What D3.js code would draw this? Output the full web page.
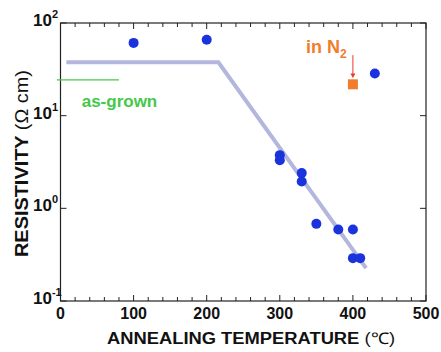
<!DOCTYPE html>
<html>
<head>
<meta charset="utf-8">
<script src="https://cdn.jsdelivr.net/npm/d3@7"></script>
<style>
  body { margin: 0; background: #fff; }
  text { font-family: "Liberation Sans", Arial, sans-serif; }
</style>
</head>
<body>
<div class="chart"></div>
<script>
var svgWidth = 441;
var svgHeight = 352;

// measured data (temperature in C, resistivity in ohm cm)
var annealTemp = [100, 200, 300, 300, 330, 330, 350, 380, 400, 400, 410, 430];
var resistivity = [61, 66, 3.75, 3.3, 2.4, 1.95, 0.68, 0.59, 0.59, 0.29, 0.29, 28.5];
var n2Temp = [400];
var n2Resistivity = [21.8];
var guideTemp = [8, 216, 418];
var guideRes = [37.7, 37.7, 0.226];
var asGrownTemp = [-5, 80];
var asGrownRes = [24.3, 24.3];
var xTicks = [0, 100, 200, 300, 400, 500];
var yTicks = [0.1, 1, 10, 100];
var yExp = ["-1", "0", "1", "2"];

var margin = { top: 23, right: 15, bottom: 51, left: 60.5 };
var width = svgWidth - margin.left - margin.right;
var height = svgHeight - margin.top - margin.bottom;

var svg = d3.select(".chart")
  .append("svg")
  .attr("width", svgWidth)
  .attr("height", svgHeight);

var chartGroup = svg.append("g")
  .attr("transform", `translate(${margin.left}, ${margin.top})`);

var xScale = d3.scaleLinear().domain([0, 500]).range([0, width]);
var yScale = d3.scaleLog().domain([0.1, 100]).range([height, 0]);

// frame
chartGroup.append("rect")
  .attr("width", width)
  .attr("height", height)
  .attr("fill", "none")
  .attr("stroke", "#222")
  .attr("stroke-width", 1.2);

// x ticks (bottom and top), inward
var xMinor = d3.range(0, 501, 20);
[height, 0].forEach(function(y0) {
  var dir = y0 === 0 ? 1 : -1;
  chartGroup.selectAll(null)
    .data(xMinor)
    .enter()
    .append("line")
    .attr("x1", d => xScale(d))
    .attr("x2", d => xScale(d))
    .attr("y1", y0)
    .attr("y2", d => y0 + dir * (d % 100 === 0 ? 6 : 4))
    .attr("stroke", "#222")
    .attr("stroke-width", 1);
});

// y ticks left and right, inward
[0, width].forEach(function(x0) {
  var dir = x0 === 0 ? 1 : -1;
  chartGroup.selectAll(null)
    .data(yTicks)
    .enter()
    .append("line")
    .attr("y1", d => yScale(d))
    .attr("y2", d => yScale(d))
    .attr("x1", x0)
    .attr("x2", x0 + dir * 6)
    .attr("stroke", "#222")
    .attr("stroke-width", 1);
});

// x tick labels
chartGroup.selectAll(null)
  .data(xTicks)
  .enter()
  .append("text")
  .attr("x", d => xScale(d))
  .attr("y", height + 18)
  .attr("text-anchor", "middle")
  .attr("font-size", 16)
  .attr("font-weight", "bold")
  .attr("fill", "#111")
  .text(d => d);

// y tick labels 10^n
var yLab = chartGroup.selectAll(null)
  .data(yTicks)
  .enter()
  .append("text")
  .attr("x", d => -27.5)
  .attr("y", d => yScale(d) + 3)
  .attr("font-size", 17)
  .attr("font-weight", "bold")
  .attr("fill", "#111");
yLab.append("tspan").text("10");
yLab.append("tspan")
  .attr("dy", -8)
  .attr("font-size", 11)
  .text((d, i) => yExp[i]);

// guide line
var line = d3.line()
  .x(d => xScale(d[0]))
  .y(d => yScale(d[1]));

chartGroup.append("path")
  .datum(guideTemp.map((t, i) => [t, guideRes[i]]))
  .attr("d", line)
  .attr("fill", "none")
  .attr("stroke", "#b3b6dd")
  .attr("stroke-width", 4);

// as-grown line
chartGroup.append("path")
  .datum(asGrownTemp.map((t, i) => [t, asGrownRes[i]]))
  .attr("d", line)
  .attr("fill", "none")
  .attr("stroke", "#44c84a")
  .attr("stroke-width", 1.2);

chartGroup.append("text")
  .attr("x", xScale(29))
  .attr("y", yScale(12.4))
  .attr("font-size", 17)
  .attr("font-weight", "bold")
  .attr("fill", "#44c84a")
  .text("as-grown");

// data points
chartGroup.selectAll("circle")
  .data(annealTemp)
  .enter()
  .append("circle")
  .attr("cx", d => xScale(d))
  .attr("cy", (d, i) => yScale(resistivity[i]))
  .attr("r", 5)
  .attr("fill", "#1a33dd");

// N2 point
chartGroup.selectAll(".n2")
  .data(n2Temp)
  .enter()
  .append("rect")
  .attr("class", "n2")
  .attr("x", d => xScale(d) - 5)
  .attr("y", (d, i) => yScale(n2Resistivity[i]) - 5)
  .attr("width", 10)
  .attr("height", 10)
  .attr("fill", "#f07d2e");

// arrow
chartGroup.append("line")
  .attr("x1", xScale(400))
  .attr("x2", xScale(400))
  .attr("y1", yScale(45))
  .attr("y2", yScale(27))
  .attr("stroke", "#e83a2a")
  .attr("stroke-width", 1);
chartGroup.append("path")
  .attr("d", `M${xScale(400) - 2.5},${yScale(28.5)} L${xScale(400) + 2.5},${yScale(28.5)} L${xScale(400)},${yScale(25.5)} Z`)
  .attr("fill", "#e83a2a");

var n2Label = chartGroup.append("text")
  .attr("x", xScale(336))
  .attr("y", yScale(47.5))
  .attr("font-size", 18)
  .attr("font-weight", "bold")
  .attr("fill", "#f07d2e");
n2Label.append("tspan").text("in N");
n2Label.append("tspan")
  .attr("dy", 5)
  .attr("font-size", 12)
  .text("2");

// axis labels
var xLabel = svg.append("text")
  .attr("x", 107)
  .attr("y", 344)
  .attr("font-size", 16)
  .attr("textLength", 288)
  .attr("lengthAdjust", "spacingAndGlyphs")
  .attr("fill", "#111");
xLabel.append("tspan").attr("font-weight", "bold").text("ANNEALING TEMPERATURE ");
xLabel.append("tspan").text("(℃)");

var yLabel = svg.append("text")
  .attr("transform", "translate(28, 257) rotate(-90)")
  .attr("font-size", 18)
  .attr("textLength", 187)
  .attr("lengthAdjust", "spacingAndGlyphs")
  .attr("fill", "#111");
yLabel.append("tspan").attr("font-weight", "bold").text("RESISTIVITY ");
yLabel.append("tspan").text("(Ω cm)");
</script>
</body>
</html>
